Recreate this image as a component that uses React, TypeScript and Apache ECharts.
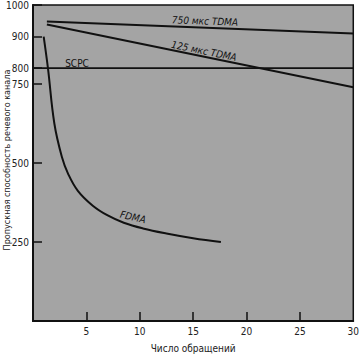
import React, { useEffect, useRef } from "react";
import * as echarts from "echarts";

const xTickValues = [5, 10, 15, 20, 25];
const xLabelValues = [5, 10, 15, 20, 25, 30];
const yLabelValues = [250, 500, 750, 800, 900, 1000];

const tdma750: [number, number][] = [[1.3, 948], [30, 910]];
const tdma125: [number, number][] = [[1.3, 938], [30, 740]];
const scpc: [number, number][] = [[0, 800], [30, 800]];
const fdma: [number, number][] = [
  [1, 900], [1.4, 800], [2, 625], [2.7, 520], [3.3, 465], [4.2, 412],
  [5.6, 365], [7, 334], [8.5, 311], [10.3, 293], [12.5, 277],
  [15, 262], [17.6, 250],
];

const seriesLabels = ["750 мкс TDMA", "125 мкс TDMA", "SCPC", "FDMA"];
const xTitle = "Число обращений";
const yTitle = "Пропускная способность речевого канала";

const FONT = "'Liberation Sans Narrow', 'DejaVu Sans Condensed', 'Liberation Sans', Arial, sans-serif";

export default function App() {
  const ref = useRef<HTMLDivElement>(null);
  useEffect(() => {
    if (!ref.current) return;
    const chart = echarts.init(ref.current, null, { renderer: "svg" });
    const lineSeries = (data: [number, number][], smooth: number | boolean, w: number) => ({
      type: "line",
      data,
      symbol: "none",
      smooth,
      lineStyle: { color: "#111", width: w },
      silent: true,
    });
    chart.setOption({
      animation: false,
      backgroundColor: "#ffffff",
      textStyle: { fontFamily: FONT },
      grid: {
        left: 33, top: 5, right: 7, bottom: 28,
        show: true, backgroundColor: "#a4a4a4", borderColor: "#111", borderWidth: 1.5,
      },
      xAxis: {
        type: "value", min: 0, max: 30, interval: 5,
        axisLine: { show: true, lineStyle: { color: "#111", width: 2 } },
        axisTick: { show: true, inside: true, length: 9, customValues: xTickValues, lineStyle: { color: "#111", width: 1.5 } },
        axisLabel: { customValues: xLabelValues, color: "#222", fontSize: 10, fontFamily: FONT, margin: 5 },
        splitLine: { show: false },
        name: xTitle, nameLocation: "middle", nameGap: 22,
        nameTextStyle: { color: "#222", fontSize: 10, fontFamily: FONT },
      },
      yAxis: {
        type: "value", min: 0, max: 1000,
        axisLine: { show: true, lineStyle: { color: "#111", width: 2 } },
        axisTick: { show: true, inside: true, length: 9, customValues: yLabelValues, lineStyle: { color: "#111", width: 1.5 } },
        axisLabel: { customValues: yLabelValues, formatter: (v: number) => String(v), color: "#222", fontSize: 10, fontFamily: FONT, margin: 4 },
        splitLine: { show: false },
      },
      series: [
        lineSeries(tdma750, false, 2),
        lineSeries(tdma125, false, 2),
        lineSeries(scpc, false, 1.8),
        lineSeries(fdma, 0.4, 2),
      ],
      graphic: [
        { type: "text", x: 205, y: 21, rotation: -0.04, style: { text: seriesLabels[0], font: `italic 10px ${FONT}`, fill: "#111", align: "center", verticalAlign: "middle" } },
        { type: "text", x: 204, y: 51, rotation: -0.2, style: { text: seriesLabels[1], font: `italic 10px ${FONT}`, fill: "#111", align: "center", verticalAlign: "middle" } },
        { type: "text", x: 77, y: 63, style: { text: seriesLabels[2], font: `10px ${FONT}`, fill: "#111", align: "center", verticalAlign: "middle" } },
        { type: "text", x: 133, y: 217, rotation: -0.22, style: { text: seriesLabels[3], font: `italic 10px ${FONT}`, fill: "#111", align: "center", verticalAlign: "middle" } },
        { type: "text", x: 7, y: 160, rotation: Math.PI / 2, style: { text: yTitle, font: `9px ${FONT}`, fill: "#222", align: "center", verticalAlign: "middle" } },
      ],
    });
    return () => chart.dispose();
  }, []);
  return <div ref={ref} style={{ width: 362, height: 358, position: "absolute", left: 0, top: 0 }} />;
}
